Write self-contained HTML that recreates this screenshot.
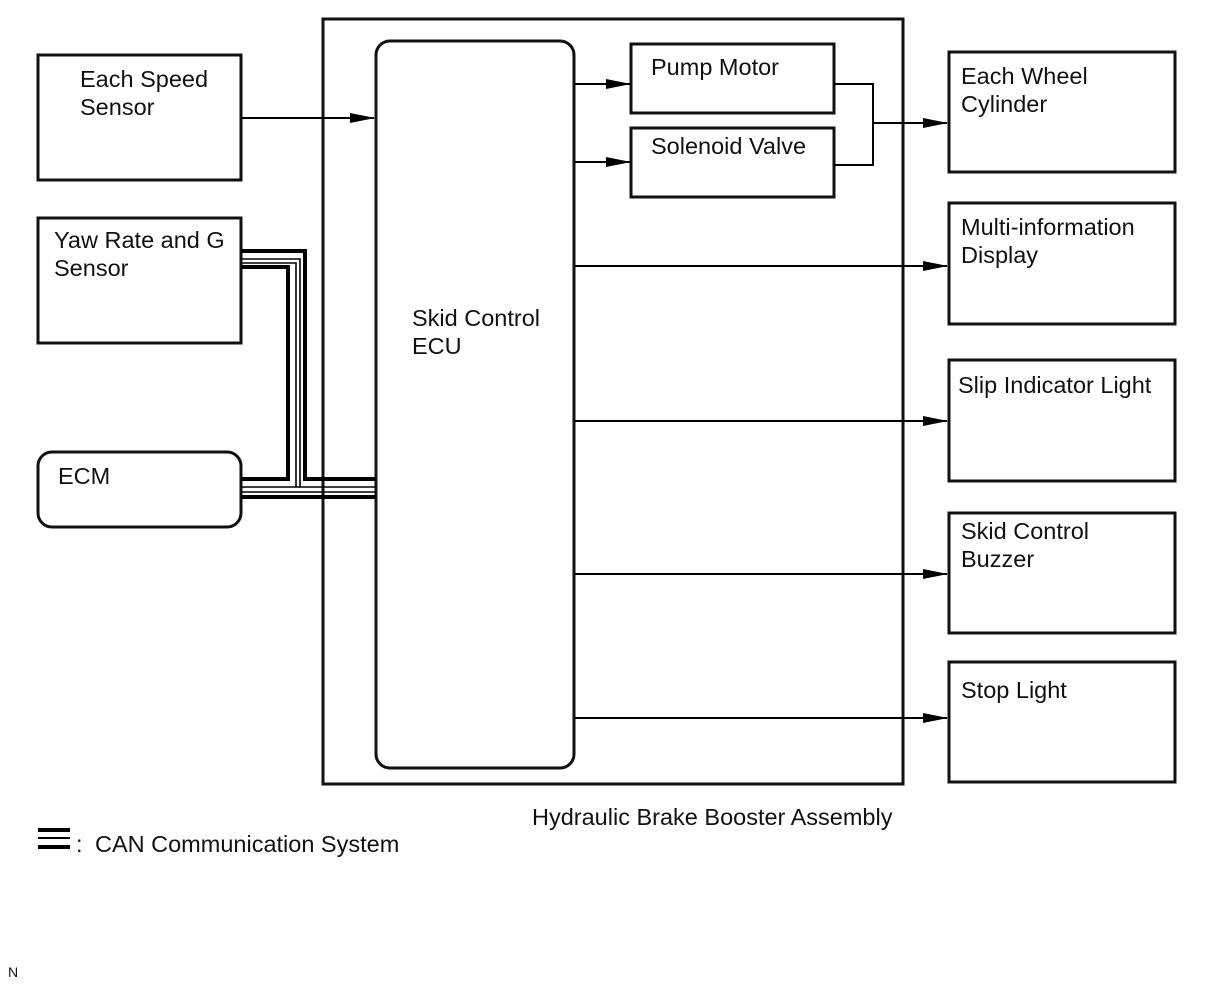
<!DOCTYPE html>
<html><head><meta charset="utf-8"><style>
html,body{margin:0;padding:0;background:#fff;}
svg text{font-family:"Liberation Sans",Arial,sans-serif;font-size:23.5px;fill:#111;}
</style></head><body>
<svg width="1210" height="986" viewBox="0 0 1210 986" xmlns="http://www.w3.org/2000/svg">
<defs><marker id="a" markerWidth="26" markerHeight="12" refX="24" refY="6" orient="auto" markerUnits="userSpaceOnUse"><path d="M0,1 L25,6 L0,11 Z" fill="#000"/></marker></defs>
<g fill="none" stroke="#111" stroke-width="3">
<rect x="38" y="55" width="203" height="125"/>
<rect x="38" y="218" width="203" height="125"/>
<rect x="38" y="452" width="203" height="75" rx="14"/>
<rect x="323" y="19" width="580" height="765"/>
<rect x="376" y="41" width="198" height="727" rx="14"/>
<rect x="631" y="44" width="203" height="69"/>
<rect x="631" y="128" width="203" height="69"/>
<rect x="949" y="52" width="226" height="120"/>
<rect x="949" y="203" width="226" height="121"/>
<rect x="949" y="360" width="226" height="121"/>
<rect x="949" y="513" width="226" height="120"/>
<rect x="949" y="662" width="226" height="120"/>
</g>
<g stroke="#000" stroke-width="2" fill="none">
<line x1="241" y1="118" x2="374" y2="118" marker-end="url(#a)"/>
<line x1="574" y1="84" x2="630" y2="84" marker-end="url(#a)"/>
<line x1="574" y1="162" x2="630" y2="162" marker-end="url(#a)"/>
<polyline points="834,84 873,84 873,165 834,165"/>
<line x1="873" y1="123" x2="947" y2="123" marker-end="url(#a)"/>
<line x1="574" y1="266" x2="947" y2="266" marker-end="url(#a)"/>
<line x1="574" y1="421" x2="947" y2="421" marker-end="url(#a)"/>
<line x1="574" y1="574" x2="947" y2="574" marker-end="url(#a)"/>
<line x1="574" y1="718" x2="947" y2="718" marker-end="url(#a)"/>
</g>
<g fill="none" stroke="#000">
<polyline stroke-width="4" points="241,251 305,251 305,479 376,479"/>
<polyline stroke-width="4" points="241,267 288,267 288,479 241,479"/>
<polyline stroke-width="1.6" points="241,259 300,259 300,487 376,487"/>
<polyline stroke-width="1.6" points="241,263 296,263 296,487"/>
<line stroke-width="1.6" x1="241" y1="487" x2="300" y2="487"/>
<line stroke-width="1.6" x1="241" y1="492" x2="376" y2="492"/>
<line stroke-width="4" x1="241" y1="497" x2="376" y2="497"/>
<line stroke-width="4" x1="38" y1="830" x2="70" y2="830"/>
<line stroke-width="2" x1="38" y1="838" x2="70" y2="838"/>
<line stroke-width="4" x1="38" y1="847" x2="70" y2="847"/>
</g>
<text x="80" y="87">Each Speed</text><text x="80" y="115">Sensor</text>
<text x="54" y="248">Yaw Rate and G</text><text x="54" y="276">Sensor</text>
<text x="58" y="484">ECM</text>
<text x="412" y="326">Skid Control</text><text x="412" y="354">ECU</text>
<text x="651" y="75">Pump Motor</text>
<text x="651" y="154">Solenoid Valve</text>
<text x="961" y="84">Each Wheel</text><text x="961" y="112">Cylinder</text>
<text x="961" y="235">Multi-information</text><text x="961" y="263">Display</text>
<text x="958" y="393">Slip Indicator Light</text>
<text x="961" y="539">Skid Control</text><text x="961" y="567">Buzzer</text>
<text x="961" y="698">Stop Light</text>
<text x="532" y="825">Hydraulic Brake Booster Assembly</text>
<text x="76" y="852">:</text>
<text x="95" y="852">CAN Communication System</text>
<text x="8" y="977" style="font-size:14px">N</text>
</svg>
</body></html>
